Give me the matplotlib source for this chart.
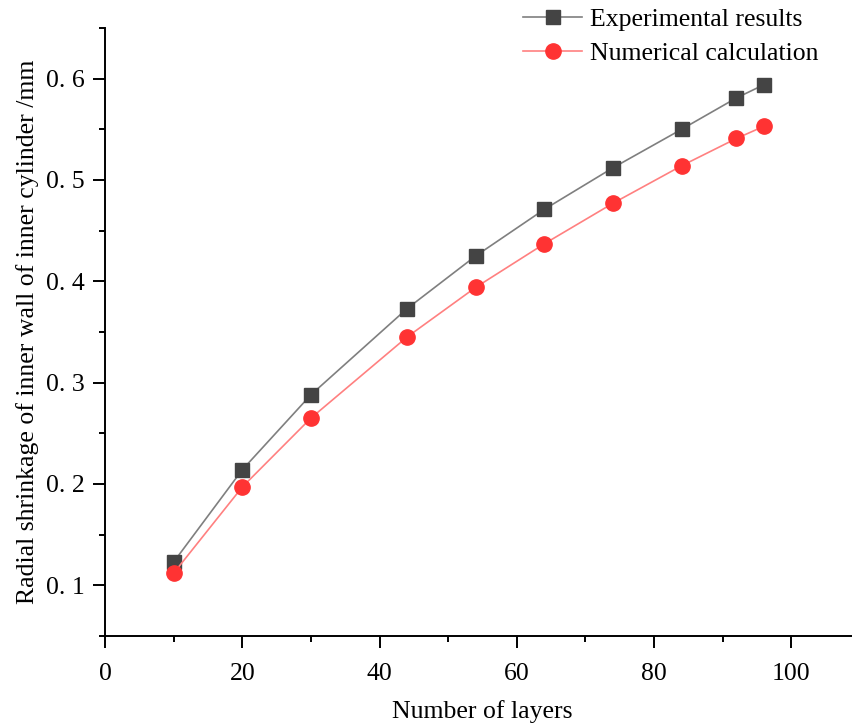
import matplotlib
matplotlib.use("Agg")
import matplotlib.pyplot as plt
from matplotlib.ticker import MultipleLocator, FixedLocator, FixedFormatter

layers = [10, 20, 30, 44, 54, 64, 74, 84, 92, 96]
experimental = [0.123, 0.214, 0.288, 0.373, 0.425, 0.471, 0.512, 0.550, 0.581, 0.594]
numerical = [0.112, 0.197, 0.265, 0.345, 0.394, 0.437, 0.477, 0.514, 0.541, 0.553]
y_ticks = [0.1, 0.2, 0.3, 0.4, 0.5, 0.6]
y_tick_labels = ["0. 1", "0. 2", "0. 3", "0. 4", "0. 5", "0. 6"]
x_ticks = [0, 20, 40, 60, 80, 100]

plt.rcParams['font.family'] = ['Liberation Serif', 'DejaVu Serif']

fig = plt.figure(figsize=(8.52, 7.27), dpi=100)
W, H = 852, 727
left, right, top, bottom = 105, 860, 28, 636
ax = fig.add_axes([left / W, 1 - bottom / H, (right - left) / W, (bottom - top) / H])

ax.plot(layers, experimental, color='#7f7f7f', lw=1.2, marker='s', markersize=10,
        markerfacecolor='#444444', markeredgecolor='#444444', label='Experimental results')
ax.plot(layers, numerical, color='#ff8080', lw=1.2, marker='o', markersize=11,
        markerfacecolor='#ff3333', markeredgecolor='#ff3333', label='Numerical calculation')

ax.set_xlim(0, 110)
ax.set_ylim(0.05, 0.65)
ax.xaxis.set_major_locator(FixedLocator(x_ticks))
ax.xaxis.set_minor_locator(MultipleLocator(10))
ax.yaxis.set_major_locator(FixedLocator(y_ticks))
ax.yaxis.set_major_formatter(FixedFormatter(y_tick_labels))
ax.yaxis.set_minor_locator(MultipleLocator(0.05))

for s in ['top', 'right']:
    ax.spines[s].set_visible(False)
for s in ['left', 'bottom']:
    ax.spines[s].set_linewidth(1.4)

ax.tick_params(which='major', direction='out', length=8.5, width=1.4, labelsize=18.5, pad=6)
ax.tick_params(which='minor', direction='out', length=4, width=1.4)
ax.tick_params(axis='x', which='major', pad=11)

ax.set_xlabel('Number of layers', fontsize=18.5, labelpad=11)
ax.set_ylabel('Radial shrinkage of inner wall of inner cylinder /mm', fontsize=18.5, labelpad=5)

ax.legend(loc='upper left', bbox_to_anchor=((513 - left) / (right - left), 1.05),
          frameon=False, fontsize=18.5, handlelength=2.3, handletextpad=0.3,
          labelspacing=0.45, borderaxespad=0)

fig.savefig('out.png', dpi=100)
